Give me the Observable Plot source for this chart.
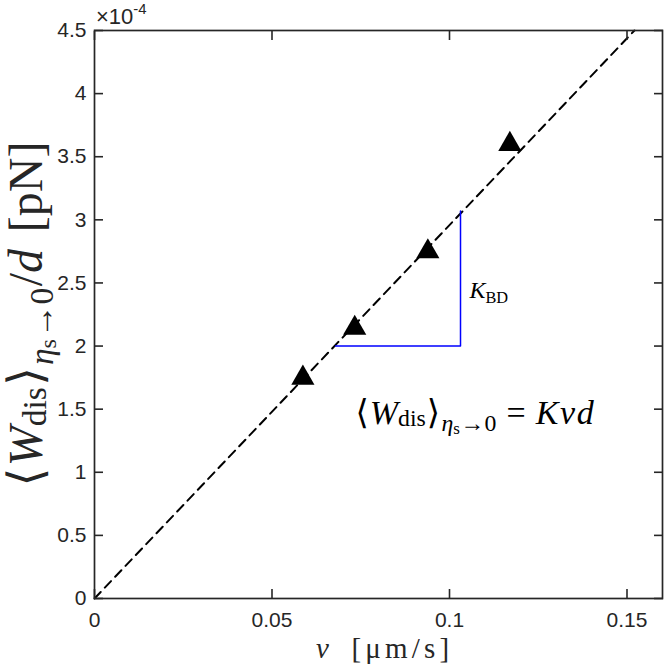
<!DOCTYPE html>
<html><head><meta charset="utf-8">
<script src="https://cdn.jsdelivr.net/npm/d3@7"></script>
<script src="https://cdn.jsdelivr.net/npm/@observablehq/plot@0.6"></script>
<style>html,body{margin:0;padding:0;background:#fff}</style>
</head><body>
<script>
// ---- data (y values in units of 1e-4 pN) ----
const velocity = [0.0587, 0.0733, 0.0939, 0.117];
const workPerD = [1.747, 2.142, 2.749, 3.599];
const fitV = [0, 0.1521];
const fitW = [0, 4.5];
const slopeV = [0.0679, 0.1031, 0.1031];
const slopeW = [2.0, 2.0, 3.07];
const xTicks = [0, 0.05, 0.1, 0.15];
const xTickLabels = ["0", "0.05", "0.1", "0.15"];
const yTicks = [0, 0.5, 1, 1.5, 2, 2.5, 3, 3.5, 4, 4.5];
const yTickLabels = ["0", "0.5", "1", "1.5", "2", "2.5", "3", "3.5", "4", "4.5"];
const kbdAnchor = [{v: 0.1056, w: 2.38}];
const eqAnchor = [{v: 0.0735, w: 1.385}];

const points = velocity.map((v, i) => ({v, w: workPerD[i]}));
const fit = fitV.map((v, i) => ({v, w: fitW[i]}));
const slope = slopeV.map((v, i) => ({v, w: slopeW[i]}));

const AX = "#262626";
const SERIF = "'Liberation Serif', 'DejaVu Serif', serif";
const fx = d => xTickLabels[xTicks.indexOf(d)];
const fy = d => yTickLabels[yTicks.indexOf(d)];

const chart = Plot.plot({
  width: 664, height: 669,
  marginLeft: 94, marginRight: 2, marginTop: 30, marginBottom: 71,
  x: {domain: [0, 0.16]},
  y: {domain: [0, 4.5]},
  style: {fontFamily: "'Liberation Sans', Arial, sans-serif", fontSize: "21px", color: AX, background: "#fff"},
  marks: [
    Plot.line(fit, {x: "v", y: "w", stroke: "#000", strokeWidth: 2, strokeDasharray: "9,6"}),
    Plot.line(slope, {x: "v", y: "w", stroke: "#0000ff", strokeWidth: 1.5}),
    Plot.dot(points, {x: "v", y: "w", symbol: "triangle", r: 8.6, fill: "#000", stroke: "none"}),
    Plot.text(kbdAnchor, {x: "v", y: "w", text: () => "KBD", textAnchor: "start", lineAnchor: "bottom", fill: "#000"}),
    Plot.text(eqAnchor, {x: "v", y: "w", text: () => "W", textAnchor: "start", lineAnchor: "bottom", fill: "#000"}),
    Plot.frame({stroke: AX, strokeWidth: 1.7}),
    Plot.axisX({ticks: xTicks, anchor: "bottom", tickSize: -9, tickPadding: 23, tickFormat: fx, label: null, strokeWidth: 1.6}),
    Plot.axisX({ticks: xTicks, anchor: "top", tickSize: -9, tickFormat: () => "", label: null, strokeWidth: 1.6}),
    Plot.axisY({ticks: yTicks, anchor: "left", tickSize: -9, tickPadding: 17, tickFormat: fy, label: null, strokeWidth: 1.6}),
    Plot.axisY({ticks: yTicks, anchor: "right", tickSize: -9, tickFormat: () => "", label: null, strokeWidth: 1.6})
  ]
});
document.body.appendChild(chart);

function rich(sel, runs, base) {
  let cur = 0;
  sel.text(null);
  for (const r of runs) {
    const shift = (r.shift || 0) * base;
    const t = sel.append("tspan").text(r.t).attr("dy", (shift - cur) + "px")
      .attr("font-size", ((r.size || 1) * base) + "px");
    cur = shift;
    if (r.italic) t.attr("font-style", "italic");
    if (r.dx) t.attr("dx", (r.dx * base) + "px");
    if (r.ls) t.attr("letter-spacing", r.ls + "px");
  }
}
const workRuns = [
  {t: "\u27E8"},
  {t: "W", italic: true, dx: 0.03},
  {t: "dis", size: 0.7, shift: 0.08},
  {t: "\u27E9", shift: 0, dx: 0.03},
  {t: "\u03B7", italic: true, size: 0.7, shift: 0.22, dx: 0.04},
  {t: "s", size: 0.5, shift: 0.3},
  {t: "\u2192", size: 0.7, shift: 0.22, dx: 0.02},
  {t: "0", size: 0.7, shift: 0.22}
];

const svg = d3.select(chart);
const textGroups = svg.selectAll('g[aria-label="text"]').nodes();
const kbdText = d3.select(textGroups[0]).select("text").attr("font-family", SERIF).attr("text-anchor", "start");
const eqText = d3.select(textGroups[1]).select("text").attr("font-family", SERIF).attr("text-anchor", "start");
rich(kbdText, [{t: "K", italic: true}, {t: "BD", size: 0.68, shift: 0.22}], 24);
rich(eqText, [...workRuns, {t: "=", shift: 0, dx: 0.3}, {t: "Kvd", italic: true, dx: 0.3, ls: 1.5}], 34);

// axis labels
const xl = svg.append("text").attr("x", 316).attr("y", 658).attr("text-anchor", "start")
  .attr("font-family", SERIF).attr("fill", AX);
rich(xl, [{t: "v", italic: true}, {t: "[\u03BCm/s]", dx: 0.78, ls: 4.2}], 29);

const yl = svg.append("text").attr("transform", "translate(42,314) rotate(-90)")
  .attr("text-anchor", "middle").attr("font-family", SERIF).attr("fill", AX);
rich(yl, [...workRuns, {t: "/", shift: 0, dx: 0.03}, {t: "d", italic: true}, {t: "[pN]", dx: 0.35}], 48);

// exponent
const ex = svg.append("text").attr("x", 96).attr("y", 24).attr("fill", AX).attr("text-anchor", "start")
  .attr("font-family", "'Liberation Sans', Arial, sans-serif");
rich(ex, [{t: "\u00D710"}, {t: "-4", size: 0.68, shift: -0.45}], 22);
</script>
</body></html>
